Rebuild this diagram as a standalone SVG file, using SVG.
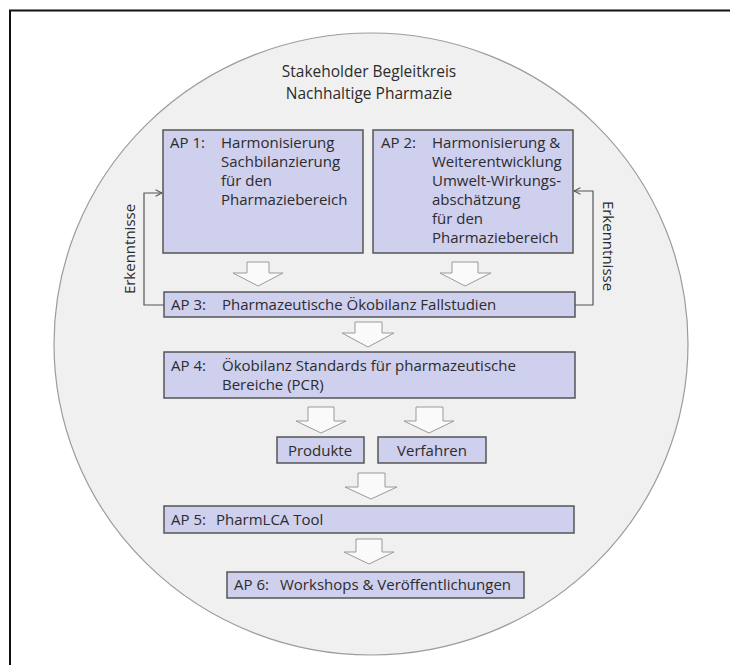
<svg xmlns="http://www.w3.org/2000/svg" width="730" height="665" viewBox="0 0 730 665">
  <style>
    text { font-family: "Open Sans", "Noto Sans", "DejaVu Sans", sans-serif; fill: #2c2c2c; font-size: 15px; }
    .ttl { font-size: 15.5px; }
    .box { fill: #cfcfee; stroke: #555; stroke-width: 1.5; }
    .blk { fill: #fafafa; stroke: #9a9a9a; stroke-width: 1; }
    .fb { fill: none; stroke: #555; stroke-width: 1.2; }
    .mid { text-anchor: middle; }
  </style>
  <defs>
    <marker id="open" viewBox="0 0 10 10" refX="9" refY="5" markerWidth="8" markerHeight="8" orient="auto" markerUnits="userSpaceOnUse">
      <path d="M1,1 L9,5 L1,9" fill="none" stroke="#555" stroke-width="1.3"/>
    </marker>
  </defs>

  <rect width="730" height="665" fill="#fff"/>
  <!-- frame, open to the right and bottom -->
  <path d="M10,665 V10.5 H730" fill="none" stroke="#111" stroke-width="2"/>

  <!-- stakeholder circle -->
  <ellipse id="circle" cx="371" cy="344" rx="317" ry="311" fill="#f0f0f0" stroke="#9c9c9c" stroke-width="1.2"/>
  <g id="title">
    <text class="mid ttl" x="369" y="77">Stakeholder Begleitkreis</text>
    <text class="mid ttl" x="369" y="99">Nachhaltige Pharmazie</text>
  </g>

  <!-- feedback loops and block arrows -->
  <g id="connectors">
    <path class="fb" d="M164,305 H144 V193 H162" marker-end="url(#open)"/>
    <path class="fb" d="M575,305 H593 V191 H574" marker-end="url(#open)"/>
    <text transform="translate(135,249) rotate(-90)" class="mid">Erkenntnisse</text>
    <text transform="translate(603,246) rotate(90)" class="mid">Erkenntnisse</text>

    <path class="blk" d="M247,262 H269 V273 H283 L258,286 L233,273 H247 Z"/>
    <path class="blk" d="M452,262 H478 V273 H491 L465,286 L440,273 H452 Z"/>
    <path class="blk" d="M355,322 H382 V333 H394 L368,347 L342,333 H355 Z"/>
    <path class="blk" d="M308,407 H334 V421 H346 L321,433 L296,421 H308 Z"/>
    <path class="blk" d="M416,407 H443 V421 H454 L429,433 L404,421 H416 Z"/>
    <path class="blk" d="M358,473 H385 V487 H397 L371,499 L345,487 H358 Z"/>
    <path class="blk" d="M356,539 H382 V552 H394 L369,564 L344,552 H356 Z"/>
  </g>

  <g id="ap1">
    <rect class="box" x="163" y="130" width="200" height="123"/>
    <text x="170" y="148">AP 1:</text>
    <text x="221" y="148">Harmonisierung</text>
    <text x="221" y="167">Sachbilanzierung</text>
    <text x="221" y="186">für den</text>
    <text x="221" y="205">Pharmaziebereich</text>
  </g>

  <g id="ap2">
    <rect class="box" x="373" y="130" width="200" height="123"/>
    <text x="381" y="148">AP 2:</text>
    <text x="432" y="148">Harmonisierung &amp;</text>
    <text x="432" y="167">Weiterentwicklung</text>
    <text x="432" y="186">Umwelt-Wirkungs-</text>
    <text x="432" y="205">abschätzung</text>
    <text x="432" y="224">für den</text>
    <text x="432" y="243">Pharmaziebereich</text>
  </g>

  <g id="ap3">
    <rect class="box" x="164" y="292" width="411" height="25"/>
    <text x="171" y="310">AP 3:</text>
    <text x="222" y="310">Pharmazeutische Ökobilanz Fallstudien</text>
  </g>

  <g id="ap4">
    <rect class="box" x="164" y="352" width="411" height="46"/>
    <text x="171" y="371">AP 4:</text>
    <text x="222" y="371">Ökobilanz Standards für pharmazeutische</text>
    <text x="222" y="390">Bereiche (PCR)</text>
  </g>

  <g id="produkte">
    <rect class="box" x="277" y="437" width="87" height="26"/>
    <text class="mid" x="320" y="456">Produkte</text>
  </g>

  <g id="verfahren">
    <rect class="box" x="378" y="437" width="108" height="26"/>
    <text class="mid" x="432" y="456">Verfahren</text>
  </g>

  <g id="ap5">
    <rect class="box" x="164" y="506" width="410" height="27"/>
    <text x="171" y="525">AP 5:</text>
    <text x="216" y="525">PharmLCA Tool</text>
  </g>

  <g id="ap6">
    <rect class="box" x="227" y="572" width="297" height="26"/>
    <text x="234" y="590">AP 6:</text>
    <text x="280" y="590">Workshops &amp; Veröffentlichungen</text>
  </g>
</svg>
